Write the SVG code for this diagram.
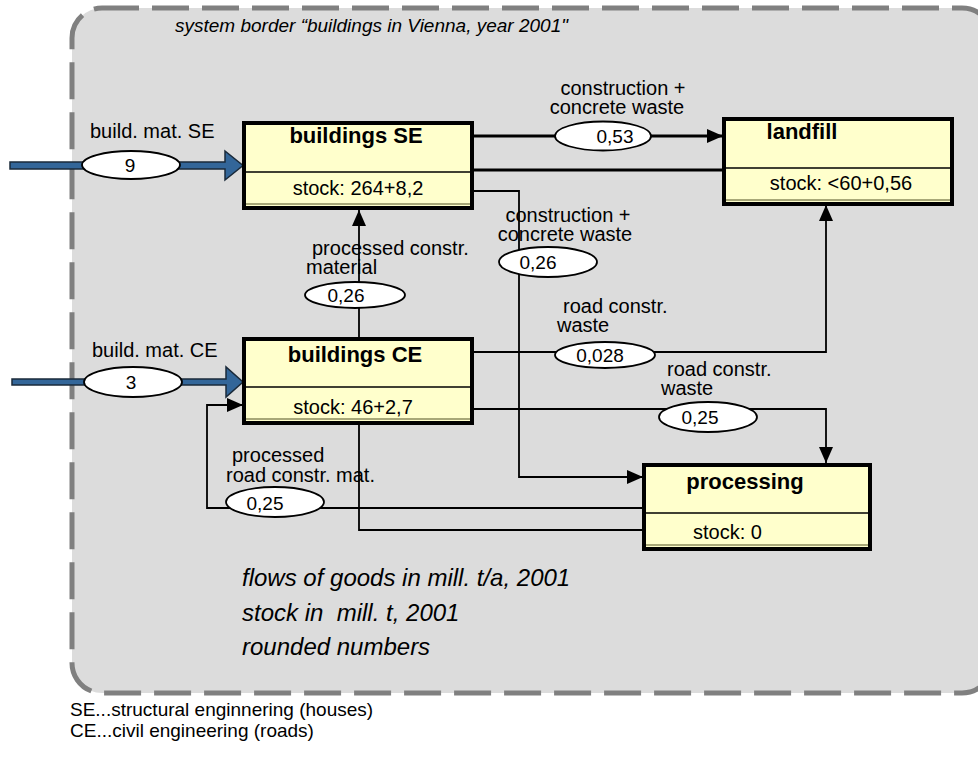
<svg xmlns="http://www.w3.org/2000/svg" width="978" height="769" viewBox="0 0 978 769">
<defs>
<style>
text{font-family:"Liberation Sans",Arial,sans-serif;fill:#000}
.border{fill:#dcdcdc;stroke:#808080;stroke-width:5;stroke-dasharray:37 13}
.box{fill:#ffffcc;stroke:#000;stroke-width:4}
.div{stroke:#000;stroke-width:1.5}
.shadow{stroke:#a8a878;stroke-width:2}
.hd{font-size:22px;font-weight:bold;text-anchor:middle}
.st{font-size:20px}
.lbl{font-size:20px}
.val{font-size:19px;text-anchor:middle}
.ell{fill:#fff;stroke:#000;stroke-width:1.8}
.ln{fill:none;stroke:#000;stroke-width:1.8}
.thk{fill:none;stroke:#000;stroke-width:3}
.blue{fill:#336699;stroke:#1a2a3a;stroke-width:1.5}
.note{font-size:24px;font-style:italic}
.title{font-size:19px;font-style:italic}
.foot{font-size:19px}
</style>
<marker id="ah" viewBox="0 0 16 14" refX="16" refY="7" markerWidth="16" markerHeight="14" markerUnits="userSpaceOnUse" orient="auto">
<path d="M0,0 L16,7 L0,14 Z" fill="#000"/>
</marker>
</defs>

<rect class="border" x="72" y="8" width="920" height="685" rx="30" ry="30"/>
<text class="title" x="175" y="32">system border “buildings in Vienna, year 2001"</text>

<g id="connectors">
<!-- blue inputs -->
<polygon class="blue" points="10,162 225,162 225,151 243,165.5 225,180 225,169 10,169"/>
<polygon class="blue" points="12,379 226,379 226,367 243,382 226,397 226,385 12,385"/>
<!-- SE to landfill -->
<path class="thk" d="M473,136 H723" marker-end="url(#ah)"/>
<path class="thk" d="M473,170 H724"/>
<!-- SE to processing -->
<path class="ln" d="M473,191 H519 V477 H643" marker-end="url(#ah)"/>
<!-- CE to SE -->
<path class="ln" d="M359,338 V210" marker-end="url(#ah)"/>
<!-- CE to landfill -->
<path class="ln" d="M473,352 H826 V205" marker-end="url(#ah)"/>
<!-- CE to processing -->
<path class="ln" d="M473,409 H826 V463" marker-end="url(#ah)"/>
<!-- processing to CE -->
<path class="ln" d="M644,508 H207 V405 H243" marker-end="url(#ah)"/>
<!-- CE bottom to processing -->
<path class="ln" d="M359,424 V530 H644"/>

<!-- flow ellipses -->
<ellipse class="ell" cx="131" cy="165" rx="49" ry="14"/>
<text class="val" x="130" y="172">9</text>
<ellipse class="ell" cx="133" cy="382" rx="49" ry="15"/>
<text class="val" x="131" y="389">3</text>
<ellipse class="ell" cx="603" cy="136" rx="48" ry="14.5"/>
<text class="val" x="615" y="143">0,53</text>
<ellipse class="ell" cx="548" cy="262" rx="49" ry="15"/>
<text class="val" x="538" y="269">0,26</text>
<ellipse class="ell" cx="355" cy="295" rx="50" ry="13"/>
<text class="val" x="346" y="302">0,26</text>
<ellipse class="ell" cx="605" cy="355" rx="50" ry="13"/>
<text class="val" x="600" y="362">0,028</text>
<ellipse class="ell" cx="708" cy="417" rx="49" ry="15"/>
<text class="val" x="700" y="424">0,25</text>
<ellipse class="ell" cx="275" cy="502" rx="49" ry="15"/>
<text class="val" x="265" y="510">0,25</text>

<!-- flow labels -->
<text class="lbl" x="90" y="138">build. mat. SE</text>
<text class="lbl" x="92" y="357">build. mat. CE</text>
<text class="lbl" x="623" y="95" text-anchor="middle">construction +</text>
<text class="lbl" x="617" y="114" text-anchor="middle">concrete waste</text>
<text class="lbl" x="568" y="222" text-anchor="middle">construction +</text>
<text class="lbl" x="565" y="241" text-anchor="middle">concrete waste</text>
<text class="lbl" x="312" y="255">processed constr.</text>
<text class="lbl" x="306" y="274">material</text>
<text class="lbl" x="563" y="313">road constr.</text>
<text class="lbl" x="557" y="332">waste</text>
<text class="lbl" x="667" y="376">road constr.</text>
<text class="lbl" x="661" y="395">waste</text>
<text class="lbl" x="232" y="462">processed</text>
<text class="lbl" x="226" y="482">road constr. mat.</text>
</g>

<g id="buildings-se">
<rect class="box" x="244" y="123" width="228" height="85"/>
<line class="shadow" x1="246" y1="204" x2="470" y2="204"/>
<line class="div" x1="244" y1="172" x2="472" y2="172"/>
<text class="hd" x="356" y="143">buildings SE</text>
<text class="st" x="358" y="195" text-anchor="middle">stock: 264+8,2</text>
</g>

<g id="buildings-ce">
<rect class="box" x="244" y="339" width="228" height="84"/>
<line class="shadow" x1="246" y1="419" x2="470" y2="419"/>
<line class="div" x1="244" y1="387" x2="472" y2="387"/>
<text class="hd" x="355" y="362">buildings CE</text>
<text class="st" x="353" y="414" text-anchor="middle">stock: 46+2,7</text>
</g>

<g id="landfill">
<rect class="box" x="724" y="119" width="228" height="85"/>
<line class="shadow" x1="726" y1="200" x2="950" y2="200"/>
<line class="div" x1="724" y1="168" x2="952" y2="168"/>
<text class="hd" x="802" y="139">landfill</text>
<text class="st" x="841" y="190" text-anchor="middle">stock: &lt;60+0,56</text>
</g>

<g id="processing">
<rect class="box" x="644" y="465" width="226" height="84"/>
<line class="shadow" x1="646" y1="545" x2="868" y2="545"/>
<line class="div" x1="644" y1="513" x2="870" y2="513"/>
<text class="hd" x="745" y="489">processing</text>
<text class="st" x="693" y="539">stock: 0</text>
</g>

<g id="notes">
<text class="note" x="242" y="586">flows of goods in mill. t/a, 2001</text>
<text class="note" x="242" y="621">stock in&#160; mill. t, 2001</text>
<text class="note" x="242" y="655">rounded numbers</text>
<text class="foot" x="70" y="716">SE...structural enginnering (houses)</text>
<text class="foot" x="70" y="737">CE...civil engineering (roads)</text>
</g>
</svg>
